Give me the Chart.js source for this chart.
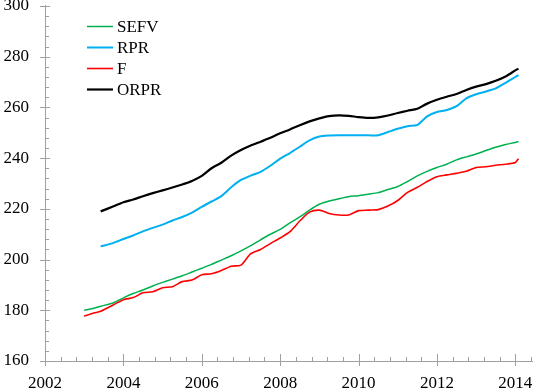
<!DOCTYPE html>
<html>
<head>
<meta charset="utf-8">
<script src="https://cdn.jsdelivr.net/npm/chart.js@4"></script>
<style>
  html, body { margin: 0; padding: 0; background: #fff; }
  #chart { display: block; }
</style>
</head>
<body>
<canvas id="chart" width="533" height="389"></canvas>
<script>
// time axis in fractional years, roughly quarterly
const years = [
  2003.0, 2003.25, 2003.42, 2003.75, 2004.0, 2004.25, 2004.5, 2004.75,
  2005.0, 2005.25, 2005.5, 2005.75, 2006.0, 2006.25, 2006.5, 2006.75,
  2007.0, 2007.25, 2007.5, 2007.75, 2008.0, 2008.25, 2008.5, 2008.75,
  2009.0, 2009.25, 2009.5, 2009.75, 2010.0, 2010.25, 2010.5, 2010.75,
  2011.0, 2011.25, 2011.5, 2011.75, 2012.0, 2012.25, 2012.5, 2012.75,
  2013.0, 2013.25, 2013.5, 2013.75, 2014.0, 2014.08,
];

const sefv = [
  180.0, 180.8, 181.6, 183.0, 184.9, 186.6, 188.0, 189.6,
  191.0, 192.3, 193.6, 195.1, 196.6, 198.1, 199.8, 201.5,
  203.4, 205.5, 207.8, 210.0, 211.9, 214.5, 216.8, 219.5,
  221.8, 223.1, 224.0, 224.8, 225.2, 225.8, 226.4, 227.6,
  228.8, 230.8, 233.0, 234.8, 236.3, 237.6, 239.3, 240.5,
  241.6, 243.0, 244.3, 245.4, 246.2, 246.6,
];

const rpr = [
  null, null, 205.2, 206.6, 208.1, 209.5, 211.1, 212.5,
  213.8, 215.4, 216.8, 218.5, 220.8, 222.9, 225.0, 228.5,
  231.4, 233.1, 234.6, 237.0, 239.8, 242.0, 244.5, 247.0,
  248.5, 248.9, 249.0, 249.0, 249.0, 249.0, 249.0, 250.3,
  251.6, 252.6, 253.1, 256.5, 258.2, 259.0, 260.5, 263.6,
  265.2, 266.3, 267.5, 269.7, 272.0, 272.7,
];

const f = [
  177.7, 178.9, 179.6, 182.2, 184.2, 185.0, 186.9, 187.3,
  188.9, 189.3, 191.3, 191.9, 194.0, 194.4, 195.7, 197.4,
  197.8, 202.3, 204.0, 206.3, 208.5, 211.0, 215.2, 218.7,
  219.5, 218.2, 217.6, 217.6, 219.3, 219.5, 219.7, 221.1,
  223.3, 226.5, 228.5, 230.8, 232.7, 233.4, 234.0, 234.8,
  236.3, 236.6, 237.2, 237.6, 238.3, 239.8,
];

const orpr = [
  null, null, 219.0, 221.0, 222.6, 223.7, 225.0, 226.2,
  227.3, 228.4, 229.6, 231.0, 233.0, 236.0, 238.2, 241.0,
  243.2, 245.0, 246.5, 248.0, 249.8, 251.3, 253.0, 254.5,
  255.7, 256.6, 256.9, 256.7, 256.2, 255.9, 256.1, 256.8,
  257.8, 258.7, 259.5, 261.5, 263.0, 264.2, 265.3, 266.9,
  268.2, 269.2, 270.5, 272.2, 274.6, 275.3,
];

const xTicks = [2002, 2004, 2006, 2008, 2010, 2012, 2014];
const yTicks = [160, 180, 200, 220, 240, 260, 280, 300];

const FONT = { family: '"Liberation Serif", "Times New Roman", serif', size: 17 };
const AXIS = "#a0a0a0";

const pts = (vals) => years.map((x, i) => ({ x, y: vals[i] }));

function series(label, vals, color, width) {
  return {
    label,
    data: pts(vals),
    borderColor: color,
    backgroundColor: color,
    borderWidth: width,
    pointRadius: 0,
    tension: 0.25,
    spanGaps: false,
  };
}

// axis lines, crossing major ticks, small inner minor ticks, and the in-plot legend
const axesPlugin = {
  id: "axesAndLegend",
  afterDatasetsDraw(chart) {
    const { ctx, chartArea: a, scales } = chart;
    const xs = scales.x, ys = scales.y;
    ctx.save();
    ctx.strokeStyle = AXIS;
    ctx.lineWidth = 1;
    ctx.beginPath();
    ctx.moveTo(a.left + 0.5, a.top - 1);
    ctx.lineTo(a.left + 0.5, a.bottom + 5);
    ctx.moveTo(a.left - 5, Math.round(a.bottom) + 0.5);
    ctx.lineTo(a.right + 2, Math.round(a.bottom) + 0.5);
    ctx.stroke();

    ctx.beginPath();
    for (let v = xs.min; v <= xs.max + 1e-6; v += 0.4) {
      const px = Math.round(xs.getPixelForValue(v)) + 0.5;
      const major = xTicks.some((t) => Math.abs(t - v) < 1e-6);
      ctx.moveTo(px, a.bottom - (major ? 7 : 4));
      ctx.lineTo(px, a.bottom + (major ? 5 : 0));
    }
    for (let v = ys.min; v <= ys.max + 1e-6; v += 4) {
      const py = Math.round(ys.getPixelForValue(v)) + 0.5;
      const major = yTicks.some((t) => Math.abs(t - v) < 1e-6);
      ctx.moveTo(a.left - (major ? 5 : 0), py);
      ctx.lineTo(a.left + (major ? 5 : 4), py);
    }
    ctx.stroke();

    // legend
    ctx.font = `${FONT.size}px ${FONT.family}`;
    ctx.textBaseline = "middle";
    ctx.fillStyle = "#000";
    chart.data.datasets.forEach((ds, i) => {
      const y = a.top + 20.5 + i * 21;
      ctx.strokeStyle = ds.borderColor;
      ctx.lineWidth = ds.borderWidth;
      ctx.beginPath();
      ctx.moveTo(a.left + 42, y);
      ctx.lineTo(a.left + 68, y);
      ctx.stroke();
      ctx.fillText(ds.label, a.left + 72, y + 1);
    });
    ctx.restore();
  },
};

new Chart(document.getElementById("chart"), {
  type: "line",
  data: {
    datasets: [
      series("SEFV", sefv, "#00b050", 1.5),
      series("RPR", rpr, "#00b0f0", 2),
      series("F", f, "#ff0000", 1.6),
      series("ORPR", orpr, "#000000", 2.2),
    ],
  },
  options: {
    responsive: false,
    animation: false,
    devicePixelRatio: 1,
    layout: { padding: { top: 6, right: 2, left: 0, bottom: 0 } },
    plugins: { legend: { display: false }, tooltip: { enabled: false } },
    scales: {
      x: {
        type: "linear",
        min: 2002,
        max: 2014.4,
        afterBuildTicks: (s) => { s.ticks = xTicks.map((value) => ({ value })); },
        afterFit: (s) => { s.height = 28; s.paddingLeft = 0; s.paddingRight = 0; },
        grid: { display: false, drawTicks: false },
        border: { display: false },
        ticks: { font: FONT, color: "#000", padding: 12, maxRotation: 0, autoSkip: false, callback: (v) => String(v) },
      },
      y: {
        min: 160,
        max: 300,
        afterBuildTicks: (s) => { s.ticks = yTicks.map((value) => ({ value })); },
        afterFit: (s) => { s.width = 45; s.paddingTop = 0; s.paddingBottom = 0; },
        grid: { display: false, drawTicks: false },
        border: { display: false },
        ticks: { font: FONT, color: "#000", padding: 16, callback: (v) => String(v) },
      },
    },
  },
  plugins: [axesPlugin],
});
</script>
</body>
</html>
